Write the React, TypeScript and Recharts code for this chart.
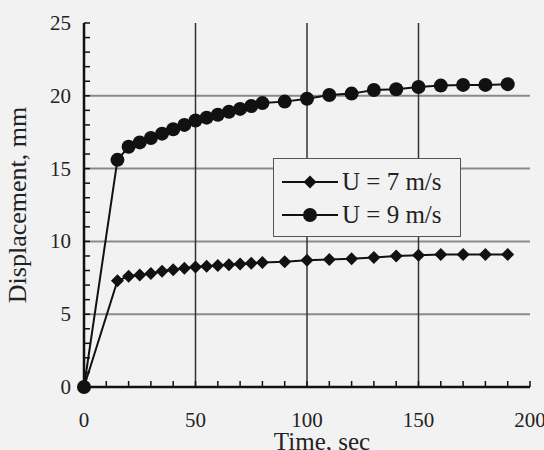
import { Line, LineChart, ReferenceLine, XAxis, YAxis } from "recharts";

const TIMES = [0, 15, 20, 25, 30, 35, 40, 45, 50, 55, 60, 65, 70, 75, 80, 90, 100, 110, 120, 130, 140, 150, 160, 170, 180, 190];
const U7 = [0, 7.3, 7.6, 7.7, 7.8, 7.95, 8.05, 8.15, 8.25, 8.3, 8.35, 8.4, 8.45, 8.5, 8.55, 8.6, 8.7, 8.75, 8.8, 8.9, 9.0, 9.05, 9.1, 9.1, 9.1, 9.1];
const U9 = [0, 15.6, 16.5, 16.8, 17.1, 17.4, 17.7, 18.0, 18.3, 18.5, 18.7, 18.9, 19.1, 19.3, 19.5, 19.6, 19.8, 20.05, 20.15, 20.4, 20.45, 20.6, 20.7, 20.75, 20.75, 20.8];
const SERIES_NAMES = ["U = 7 m/s", "U = 9 m/s"];

const X_TICKS = [0, 10, 20, 30, 40, 50, 60, 70, 80, 90, 100, 110, 120, 130, 140, 150, 160, 170, 180, 190, 200];
const Y_TICKS = [0, 1, 2, 3, 4, 5, 6, 7, 8, 9, 10, 11, 12, 13, 14, 15, 16, 17, 18, 19, 20, 21, 22, 23, 24, 25];
const X_GRID = [50, 100, 150];
const Y_GRID = [5, 10, 15, 20];

const data = TIMES.map((t, i) => ({ t, u7: U7[i], u9: U9[i] }));

const FONT = "'Liberation Serif', 'DejaVu Serif', serif";
const INK = "#111";
const DIAMOND = 6.5;

function Diamond({ cx, cy }: any) {
  if (cx == null || cy == null) return null;
  const r = DIAMOND;
  return <path d={`M${cx},${cy - r}L${cx + r},${cy}L${cx},${cy + r}L${cx - r},${cy}Z`} fill={INK} />;
}

function Circle({ cx, cy }: any) {
  if (cx == null || cy == null) return null;
  return <circle cx={cx} cy={cy} r={7} fill={INK} />;
}

function XTick({ x, y, payload }: any) {
  const v = payload.value;
  return (
    <g>
      <line x1={x} y1={y} x2={x} y2={y - 6} stroke={INK} strokeWidth={1.5} />
      {v % 50 === 0 && (
        <text x={x} y={y + 40} textAnchor="middle" fontFamily={FONT} fontSize={21} fill="#222">
          {v}
        </text>
      )}
    </g>
  );
}

function YTick({ x, y, payload }: any) {
  const v = payload.value;
  return (
    <g>
      <line x1={x} y1={y} x2={x + 6} y2={y} stroke={INK} strokeWidth={1.5} />
      {v % 5 === 0 && (
        <text x={x - 13} y={y + 7} textAnchor="end" fontFamily={FONT} fontSize={21} fill="#222">
          {v}
        </text>
      )}
    </g>
  );
}

function LegendBox() {
  return (
    <div
      style={{
        position: "absolute",
        left: 273,
        top: 158,
        width: 188,
        height: 79,
        border: "1.5px solid #555",
        background: "#f2f2f2",
        boxSizing: "border-box",
        paddingTop: 6,
      }}
    >
      {SERIES_NAMES.map((name, i) => (
        <div key={name} style={{ display: "flex", alignItems: "center", height: 33 }}>
          <svg width={66} height={20} style={{ marginLeft: 6 }}>
            <line x1={2} y1={10} x2={58} y2={10} stroke={INK} strokeWidth={2} />
            {i === 0 ? <Diamond cx={30} cy={10} /> : <Circle cx={30} cy={10} />}
          </svg>
          <span style={{ fontFamily: FONT, fontSize: 25, color: "#222", marginLeft: -4, lineHeight: 1 }}>{name}</span>
        </div>
      ))}
    </div>
  );
}

export default function App() {
  return (
    <div style={{ position: "absolute", left: 0, top: 0, width: 544, height: 450, background: "#f2f2f2", overflow: "hidden" }}>
      <LineChart width={544} height={450} data={data} margin={{ top: 23, right: 14, left: 0, bottom: 0 }}>
        {Y_GRID.map((v) => (
          <ReferenceLine key={`y${v}`} y={v} stroke="#8a8a8a" strokeWidth={2} />
        ))}
        {X_GRID.map((v) => (
          <ReferenceLine key={`x${v}`} x={v} stroke="#333" strokeWidth={1.5} />
        ))}
        <XAxis
          dataKey="t"
          type="number"
          domain={[0, 200]}
          ticks={X_TICKS}
          interval={0}
          tick={<XTick />}
          tickSize={0}
          tickMargin={0}
          tickLine={false}
          axisLine={{ stroke: INK, strokeWidth: 2.5 }}
          height={63}
          label={{ value: "Time, sec", position: "insideBottom", dx: 15, dy: 5, fontFamily: FONT, fontSize: 25, fill: "#222" }}
        />
        <XAxis xAxisId="top" orientation="top" dataKey="t" type="number" domain={[0, 200]} tick={false} tickLine={false} height={0} axisLine={{ stroke: INK, strokeWidth: 2 }} />
        <YAxis
          type="number"
          domain={[0, 25]}
          ticks={Y_TICKS}
          interval={0}
          tick={<YTick />}
          tickSize={0}
          tickMargin={0}
          tickLine={false}
          axisLine={{ stroke: INK, strokeWidth: 2.5 }}
          width={84}
          label={{ value: "Displacement, mm", angle: -90, position: "insideLeft", dx: 12, dy: 0, fontFamily: FONT, fontSize: 26, fill: "#222", style: { textAnchor: "middle" } }}
        />
        <YAxis yAxisId="right" orientation="right" type="number" domain={[0, 25]} tick={false} tickLine={false} width={0} axisLine={{ stroke: INK, strokeWidth: 2 }} />
        <Line dataKey="u7" name={SERIES_NAMES[0]} stroke={INK} strokeWidth={2} dot={<Diamond />} isAnimationActive={false} />
        <Line dataKey="u9" name={SERIES_NAMES[1]} stroke={INK} strokeWidth={2} dot={<Circle />} isAnimationActive={false} />
      </LineChart>
      <LegendBox />
    </div>
  );
}
